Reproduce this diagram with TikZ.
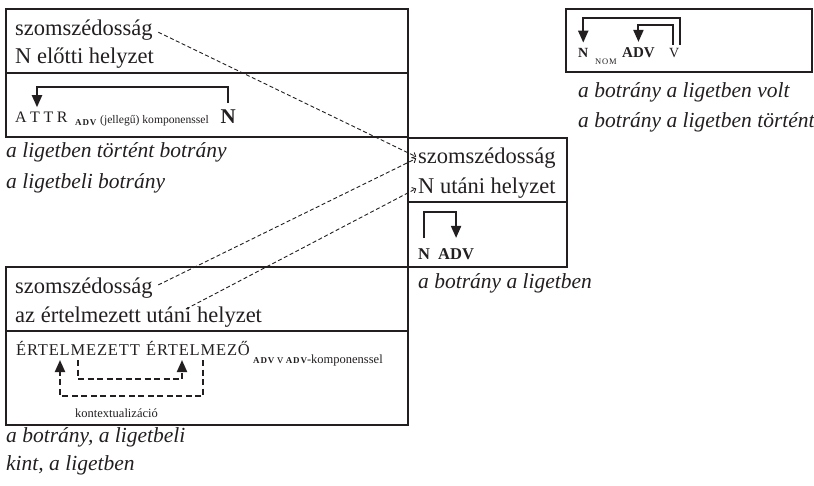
\documentclass[tikz,border=0pt]{standalone}
\usepackage{fontspec}
\setmainfont{Liberation Serif}
\usetikzlibrary{arrows.meta}
\definecolor{ink}{HTML}{231F20}

\begin{document}
\begin{tikzpicture}[x=1pt,y=-1pt,
  every node/.style={inner sep=0pt, text=ink},
  txt/.style={anchor=base west, font=\fontsize{22.5}{27}\selectfont},
  ital/.style={anchor=base west, font=\fontsize{21.5}{26}\selectfont\itshape},
  small/.style={anchor=base west, font=\fontsize{#1}{#1}\selectfont},
  smallbf/.style={anchor=base west, font=\fontsize{#1}{#1}\selectfont\bfseries},
  capsA/.style={anchor=base west, font=\fontsize{16}{18}\selectfont},
  capsB/.style={anchor=base west, font=\fontsize{16.5}{18}\selectfont\addfontfeature{LetterSpace=5}},
  tinycaps/.style={anchor=base west, font=\fontsize{8.5}{9}\selectfont\addfontfeature{LetterSpace=10}},
  tinybfcaps/.style={anchor=base west, font=\fontsize{9}{9}\selectfont\bfseries\addfontfeature{LetterSpace=10}},
  thinbox/.style={draw=ink, line width=1.2pt},
  heavybox/.style={draw=ink, line width=2.6pt},
  elbow/.style={draw=ink, line width=2pt, -{Triangle[length=12pt,width=10pt]}},
  dashelbow/.style={draw=ink, line width=2pt, dash pattern=on 6pt off 3.5pt,
    -{Triangle[length=12pt,width=10pt]}},
  link/.style={draw=ink, line width=0.9pt, dash pattern=on 4pt off 2.5pt,
    -{Straight Barb[length=3pt,width=6pt]}},
]
\useasboundingbox (0,0) rectangle (814,485);

% frames
\draw[thinbox] (6,9) rectangle (408,137);
\draw[thinbox] (6,73) -- (408,73);
\draw[heavybox] (408,138) rectangle (567,267);
\draw[heavybox] (408,202) -- (567,202);
\draw[thinbox] (6,267) rectangle (408,425);
\draw[thinbox] (6,331) -- (408,331);
\draw[thinbox] (566,9) rectangle (812,72);

% upper left panel: position before N
\node[txt] (szA) at (15,35) {szomszédosság};
\node[txt] (elotti) at (15,63) {N előtti helyzet};
\node[capsA] (attr) at (15,122) {A\kern3.5pt T\kern3.5pt T\kern3.5pt R};
\node[tinybfcaps] (attrsub) at (75,125) {ADV};
\node[small=11.6] (jelleg) at (100,123) {(jellegű) komponenssel};
\node[smallbf=21, anchor=base east] (bigN) at (236,123) {N};
\coordinate (hA) at (0,87);
\coordinate (attrIn) at ([xshift=22pt]attr.north west);
\draw[elbow, shorten <=6pt, shorten >=4pt] (bigN.north) -- (bigN.north |- hA) -| (attrIn);

\node[ital] (exA1) at (6,157) {a ligetben történt botrány};
\node[ital] (exA2) at (6,188) {a ligetbeli botrány};

% middle panel: position after N
\node[txt] (szB) at (418,163) {szomszédosság};
\node[txt] (utaniB) at (418,193) {N utáni helyzet};
\node[smallbf=16.5] (nB) at (418,259) {N};
\node[smallbf=16.5] (advB) at (438,259) {ADV};
\coordinate (hB) at (0,212);
\draw[elbow, shorten <=10pt, shorten >=10pt] (nB.north) -- (nB.north |- hB) -| (advB.north);
\node[ital] (exB) at (418,288) {a botrány a ligetben};

% upper right panel
\node[smallbf=14] (nC) at (578,57) {N};
\node[tinycaps] (nomC) at (595,64) {NOM};
\node[smallbf=15] (advC) at (622,57) {ADV};
\node[small=14] (vC) at (669,57) {V};
\coordinate (hC1) at (0,18);
\coordinate (hC2) at (0,25);
\coordinate (vR) at ([xshift=5.5pt]vC.north);
\coordinate (vL) at ([xshift=-1.5pt]vC.north);
\draw[elbow, shorten <=3pt, shorten >=5pt] (vR) -- (vR |- hC1) -| (nC.north);
\draw[elbow, shorten <=3pt, shorten >=5pt] (vL) -- (vL |- hC2) -| (advC.north);
\node[ital] (exC1) at (578,97) {a botrány a ligetben volt};
\node[ital] (exC2) at (578,127) {a botrány a ligetben történt};

% lower left panel: interpreted position
\node[txt] (szD) at (15,293) {szomszédosság};
\node[txt] (ertD) at (15,322) {az értelmezett utáni helyzet};
\node[capsB] (ertA) at (16,355) {ÉRTELMEZETT};
\node[capsB] (ertB) at (146,355) {ÉRTELMEZŐ};
\node[anchor=base west] (subD) at (253,363)
  {{\fontsize{9}{9}\selectfont\bfseries\addfontfeature{LetterSpace=10}ADV}\
   {\fontsize{12.5}{13}\selectfont v}\
   {\fontsize{9}{9}\selectfont\bfseries\addfontfeature{LetterSpace=10}ADV}{\fontsize{12.5}{13}\selectfont -komponenssel}};
\coordinate (dA1) at (203,360);
\coordinate (dA2) at (60,360);
\coordinate (dAb) at (0,396);
\coordinate (dB1) at (78,360);
\coordinate (dB2) at (182,360);
\coordinate (dBb) at (0,379);
\draw[dashelbow] (dA1) -- (dA1 |- dAb) -| (dA2);
\draw[dashelbow] (dB1) -- (dB1 |- dBb) -| (dB2);
\node[small=12.5] (kontext) at (75,417) {kontextualizáció};
\node[ital] (exD1) at (6,442) {a botrány, a ligetbeli};
\node[ital] (exD2) at (6,470) {kint, a ligetben};

% links between the neighbourhood labels
\coordinate (uD) at (186,309);
\draw[link, shorten <=6pt, shorten >=2pt] (szA.east) -- (szB.west);
\draw[link, shorten <=6pt, shorten >=2pt] (szD.east) -- (szB.west);
\draw[link, shorten >=2pt] (uD) -- (utaniB.west);
\end{tikzpicture}
\end{document}
